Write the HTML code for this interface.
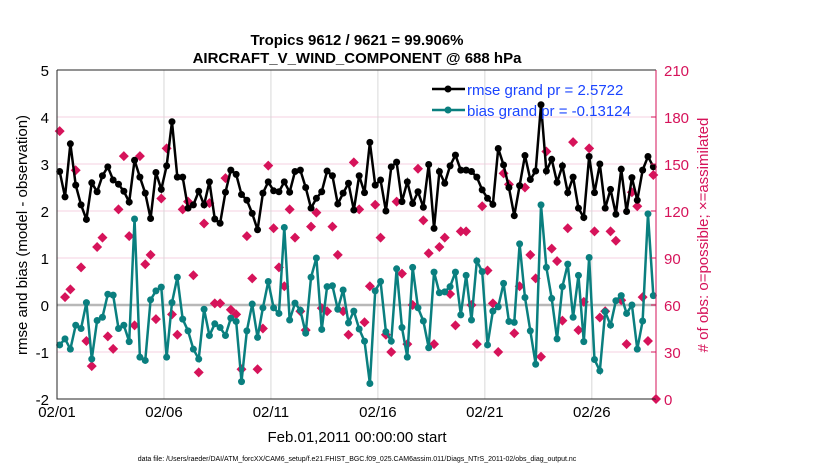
<!DOCTYPE html>
<html><head><meta charset="utf-8"><style>
body{margin:0;background:#fff;}
svg{display:block;font-family:"Liberation Sans",sans-serif;}
</style></head><body>
<svg id="chart" width="830" height="470">
<g id="grid"></g>
<g id="series"></g>
<g id="axes"></g>
<text x="357" y="45" text-anchor="middle" font-size="15" font-weight="bold">Tropics 9612 / 9621 = 99.906%</text>
<text x="357" y="63" text-anchor="middle" font-size="15" font-weight="bold">AIRCRAFT_V_WIND_COMPONENT @ 688 hPa</text>
<text x="357" y="442" text-anchor="middle" font-size="15">Feb.01,2011 00:00:00 start</text>
<text transform="translate(27,235) rotate(-90)" text-anchor="middle" font-size="15">rmse and bias (model - observation)</text>
<text transform="translate(708,235) rotate(-90)" text-anchor="middle" font-size="15" fill="#d6135a"># of obs: o=possible; ×=assimilated</text>
<text x="357" y="461" text-anchor="middle" font-size="7">data file: /Users/raeder/DAI/ATM_forcXX/CAM6_setup/f.e21.FHIST_BGC.f09_025.CAM6assim.011/Diags_NTrS_2011-02/obs_diag_output.nc</text>
<g>
<line x1="432" y1="89" x2="465" y2="89" stroke="#000" stroke-width="2.5"/>
<circle cx="448" cy="89" r="3.5" fill="#000"/>
<text x="467" y="95" font-size="15" fill="#1a44ff">rmse grand pr = 2.5722</text>
<line x1="432" y1="110" x2="465" y2="110" stroke="#0a7f7f" stroke-width="2.5"/>
<circle cx="448" cy="110" r="3.5" fill="#0a7f7f"/>
<text x="467" y="116" font-size="15" fill="#1a44ff">bias grand pr = -0.13124</text>
</g>
</svg>
<script>
const rmse=[2.84,2.30,3.43,2.55,2.13,1.82,2.60,2.41,2.75,2.94,2.66,2.57,2.42,2.19,3.08,2.72,2.38,1.84,2.82,2.46,2.96,3.90,2.72,2.72,2.06,2.13,2.42,2.13,2.62,
1.83,1.74,2.40,2.87,2.78,2.35,2.23,1.95,1.60,2.38,2.62,2.43,2.41,2.62,2.40,2.84,2.87,2.50,2.06,2.27,2.41,2.85,2.75,2.15,2.38,2.59,2.02,
2.75,2.39,3.46,2.55,2.66,2.00,2.94,3.04,2.20,2.62,2.16,2.41,2.08,2.99,1.63,2.84,2.59,2.96,3.19,2.87,2.87,2.84,2.72,2.45,2.27,2.14,3.33,
2.98,2.50,1.90,2.54,3.18,2.67,2.85,4.26,2.85,3.10,2.61,2.96,2.39,2.72,2.06,1.86,3.16,2.39,3.00,2.06,2.46,1.93,2.89,1.99,2.71,2.23,2.87,3.16,2.94];
const bias=[-0.85,-0.72,-0.94,-0.43,-0.50,0.05,-1.15,-0.33,-0.26,0.23,0.21,-0.50,-0.43,-0.78,1.83,-1.11,-1.18,0.11,0.30,0.38,-1.11,0.05,0.59,-0.30,-0.55,-0.94,-1.15,-0.09,-0.65,
-0.40,-0.48,-0.65,-0.28,-0.35,-1.63,-0.55,0.02,-0.69,-0.06,0.50,-0.06,-0.18,1.65,-0.32,0.04,-0.11,-0.60,0.59,1.00,-0.52,0.39,0.41,-0.09,0.32,-0.38,-0.13,
-0.51,-0.77,-1.67,0.30,0.50,-0.57,-0.77,0.77,-0.48,-1.11,0.80,-0.06,-0.34,-0.91,0.70,0.26,0.28,0.39,0.70,-0.21,0.63,-0.32,0.94,0.71,-0.85,-0.13,-0.04,
0.46,-0.35,-0.37,1.30,0.16,-0.55,-1.26,2.13,0.80,0.14,-0.72,0.39,0.87,-0.26,0.63,-0.78,1.01,-1.16,-1.40,-0.14,-0.43,0.09,0.20,-0.18,0.00,-0.94,-0.34,1.94,0.20];
const nobs=[171,65,70,146,84,37,21,97,103,40,32,121,155,104,47,155,86,92,51,128,160,54,41,121,126,79,17,112,125,
61,61,141,57,54,19,104,77,19,45,149,109,84,72,121,103,56,44,110,119,58,56,110,92,56,41,151,
121,49,72,124,103,41,30,126,80,35,60,147,114,93,35,97,103,67,47,107,107,60,35,123,82,61,30,
144,137,42,72,135,92,77,27,158,96,88,50,109,164,44,62,160,107,52,56,107,101,63,35,132,123,65,37,143,0];
const xTicks=["02/01","02/06","02/11","02/16","02/21","02/26"];
const yTicks=[-2,-1,0,1,2,3,4,5];
const rTicks=[0,30,60,90,120,150,180,210];

const X0=57,X1=656,Y0=70,Y1=399;
const xs=d=>X0+(X1-X0)*d/28;
const ys=v=>Y1-(Y1-Y0)*(v+2)/7;
const yr=c=>Y1-(Y1-Y0)*c/210;
const dayOf=i=>Math.min(28,0.125+0.25*i);
const NS="http://www.w3.org/2000/svg";
function mk(tag,attrs,parent){const e=document.createElementNS(NS,tag);for(const k in attrs)e.setAttribute(k,attrs[k]);parent.appendChild(e);return e;}
const grid=document.getElementById('grid'),ser=document.getElementById('series'),ax=document.getElementById('axes');

yTicks.forEach(v=>{
  if(v>-2&&v<5){const l=mk('line',{x1:X0,x2:X1,y1:ys(v),y2:ys(v),stroke:'#f5d0e0','stroke-width':1},grid);
  
  }
  const t=mk('text',{x:X0-8,y:ys(v)+6,'text-anchor':'end','font-size':15},ax);t.textContent=v;
  
  
});
xTicks.forEach((s,i)=>{
  const x=xs(i*5);
  if(i>0){const l=mk('line',{x1:x,x2:x,y1:Y0,y2:Y1,stroke:'#d8d8d8','stroke-width':1},grid);
  
  }
  const t=mk('text',{x:x,y:Y1+18,'text-anchor':'middle','font-size':15},ax);t.textContent=s;
  
  
});
rTicks.forEach(c=>{
  const t=mk('text',{x:X1+8,y:yr(c)+6,'font-size':15,fill:'#d6135a'},ax);t.textContent=c;
  
  
  const k=mk('line',{x1:X1-5,x2:X1,y1:yr(c),y2:yr(c),stroke:'#d6135a'},ax);
  
  
});
const z=mk('line',{x1:X0,x2:X1,y1:ys(0),y2:ys(0),stroke:'#b8b8b8','stroke-width':2.5},grid);



nobs.forEach((c,i)=>{
  const x=xs(dayOf(i)),y=yr(c);
  const d=mk('path',{d:`M${x},${y-5}L${x+5},${y}L${x},${y+5}L${x-5},${y}Z`,fill:'#d6135a'},ser);
  
  
});
function line(vals,color,name){
  const pts=vals.map((v,i)=>xs(dayOf(i))+','+ys(v)).join(' ');
  const p=mk('polyline',{points:pts,fill:'none',stroke:color,'stroke-width':2.5},ser);
  
  
  vals.forEach((v,i)=>{const c=mk('circle',{cx:xs(dayOf(i)),cy:ys(v),r:3.5,fill:color},ser);
    
    });
}
line(bias,'#0a7f7f','bias');
line(rmse,'#000','rmse');

const f=mk('path',{d:`M${X0},${Y0}H${X1}M${X0},${Y0}V${Y1}H${X1}`,fill:'none',stroke:'#262626','stroke-width':1},ax);


const ra=mk('line',{x1:X1,x2:X1,y1:Y0,y2:Y1,stroke:'#d6135a','stroke-width':1},ax);


</script>
</body></html>
